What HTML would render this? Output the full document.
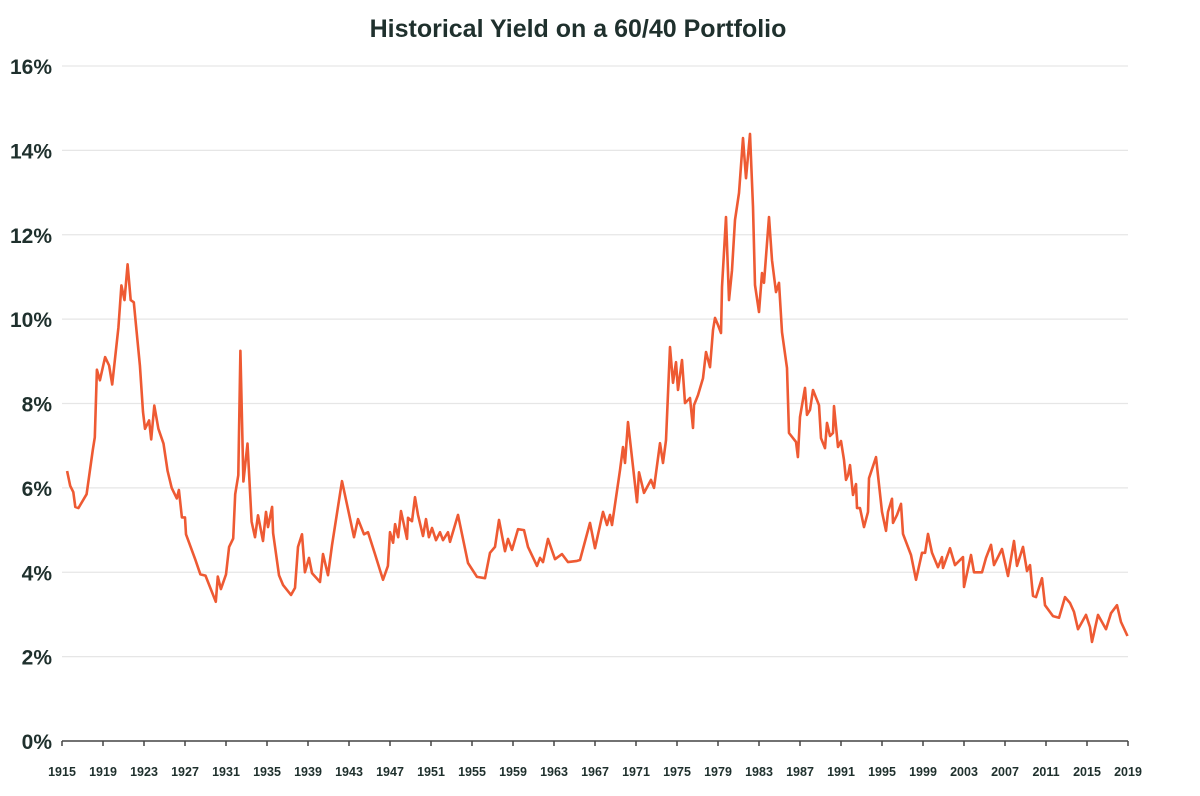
<!DOCTYPE html>
<html><head><meta charset="utf-8">
<style>
html,body{margin:0;padding:0;background:#fff;}
svg{display:block;font-family:"Liberation Sans",sans-serif;}
</style></head>
<body>
<svg id="chart" width="1200" height="796" viewBox="0 0 1200 796">
<text x="578" y="37" text-anchor="middle" font-size="25" font-weight="bold" fill="#1f302d">Historical Yield on a 60/40 Portfolio</text>
<g id="grid"></g>
<g id="yticks"></g>
<g id="xticks"></g>
<path id="line" fill="none" stroke="#ee5a33" stroke-width="2.6" stroke-linejoin="round"/>
</svg>
<script>
const years = [1915.5,1915.8,1916.1,1916.3,1916.6,1917.4,1918.0,1918.2,1918.4,1918.7,1919.2,1919.6,1919.9,1920.5,1920.8,1921.1,1921.4,1921.7,1922.0,1922.2,1922.6,1922.9,1923.1,1923.5,1923.7,1924.0,1924.4,1924.9,1925.3,1925.7,1926.2,1926.4,1926.7,1927.0,1927.1,1928.0,1928.5,1929.0,1930.0,1930.2,1930.5,1931.0,1931.3,1931.7,1931.9,1932.2,1932.4,1932.7,1933.1,1933.5,
1933.83,1934.12,1934.61,1934.9,1935.1,1935.5,1935.6,1936.17,1936.56,1937.34,1937.73,1938.02,1938.41,1938.7,1939.1,1939.39,1940.17,1940.46,1940.95,1941.34,1942.32,1943.49,1943.88,1944.46,1944.85,1945.54,1946.32,1946.8,1947.0,1947.3,1947.5,1947.8,1948.07,1948.66,1948.76,1949.15,1949.44,
1949.73,1950.22,1950.51,1950.8,1951.1,1951.49,1951.88,1952.17,1952.66,1952.85,1953.63,1954.61,1955.49,1956.27,1956.76,1957.24,1957.63,1958.22,1958.51,1958.9,1959.49,1960.07,1960.46,1961.34,1961.63,1961.93,1962.41,1963.1,1963.78,1964.37,1965.24,
1965.54,1966.51,1967.0,1967.78,1968.17,1968.46,1968.66,1969.44,1969.73,1969.93,1970.22,1971.1,1971.29,1971.78,1972.46,1972.76,1973.34,1973.63,1973.93,1974.32,1974.61,1974.9,1975.1,1975.49,1975.78,1976.27,1976.56,1976.66,1977.05,1977.54,1977.83,1978.22,1978.51,1978.71,1979.0,1979.29,1979.39,1979.78,1980.07,1980.37,1980.66,1981.05,1981.44,1981.73,1982.12,1982.41,1982.61,1983.0,1983.29,1983.49,1983.98,1984.27,1984.66,1984.95,1985.24,1985.73,1985.93,1986.61,1986.8,1987.0,1987.49,1987.68,1987.98,1988.27,1988.85,1989.05,1989.44,1989.63,1989.93,1990.22,1990.32,1990.71,1991.0,1991.29,1991.49,1991.68,1991.88,1992.17,1992.46,1992.56,1992.85,1993.24,1993.63,1993.73,1994.41,
1995.0,1995.39,1995.59,1995.98,1996.07,1996.46,1996.85,1997.05,1997.83,1998.32,1998.9,1999.2,1999.49,1999.88,2000.46,2000.85,2000.95,2001.63,2002.12,2002.9,2003.0,2003.68,2003.98,2004.76,2005.15,2005.63,2005.93,2006.71,2007.29,2007.88,2008.17,2008.76,2009.15,2009.44,2009.73,2010.02,2010.61,2010.9,2011.68,2012.27,2012.85,2013.34,2013.73,2014.12,2014.9,2015.29,2015.49,2016.07,2016.85,2017.34,2017.93,2018.32,2018.95];
const yields = [6.4,6.05,5.9,5.55,5.52,5.85,6.9,7.2,8.8,8.55,9.1,8.9,8.45,9.8,10.8,10.45,11.3,10.45,10.4,9.9,8.9,7.8,7.4,7.6,7.15,7.95,7.4,7.05,6.4,6.0,5.75,5.95,5.3,5.3,4.9,4.3,3.95,3.92,3.3,3.9,3.6,3.95,4.6,4.8,5.85,6.3,9.25,6.15,7.05,5.2,
4.83,5.35,4.74,5.43,5.07,5.55,4.93,3.93,3.7,3.46,3.63,4.6,4.9,4.0,4.34,3.98,3.77,4.43,3.93,4.64,6.16,4.83,5.26,4.9,4.95,4.43,3.82,4.15,4.95,4.7,5.14,4.83,5.45,4.79,5.29,5.21,5.78,
5.36,4.86,5.26,4.83,5.05,4.76,4.95,4.76,4.95,4.72,5.36,4.22,3.89,3.86,4.46,4.6,5.24,4.5,4.79,4.53,5.02,5.0,4.6,4.15,4.34,4.24,4.79,4.31,4.43,4.24,4.27,
4.29,5.17,4.57,5.43,5.12,5.36,5.12,6.42,6.97,6.59,7.56,5.66,6.37,5.88,6.19,6.0,7.06,6.59,7.13,9.34,8.49,8.98,8.32,9.03,8.01,8.13,7.42,7.96,8.2,8.6,9.22,8.86,9.74,10.03,9.86,9.67,10.76,12.42,10.45,11.16,12.35,12.99,14.29,13.34,14.39,12.66,10.81,10.17,11.09,10.86,12.42,11.4,10.64,10.86,9.69,8.84,7.3,7.09,6.73,7.68,8.37,7.73,7.85,8.32,7.96,7.18,6.94,7.54,7.23,7.3,7.94,6.97,7.11,6.66,6.19,6.3,6.54,5.83,6.09,5.52,5.52,5.07,5.43,6.23,6.73,
5.43,4.98,5.43,5.74,5.17,5.36,5.62,4.91,4.41,3.82,4.46,4.46,4.91,4.46,4.12,4.36,4.1,4.57,4.17,4.36,3.65,4.41,4.0,4.0,4.34,4.65,4.17,4.55,3.91,4.74,4.15,4.6,4.03,4.17,3.44,3.41,3.86,3.22,2.96,2.92,3.41,3.27,3.06,2.65,2.99,2.7,2.35,2.99,2.65,3.03,3.22,2.82,2.49];
const yTicks = [0,2,4,6,8,10,12,14,16];
const xTickYears = [];
for (let y = 1915; y <= 2019; y += 4) xTickYears.push(y);

const X0=62, X1=1128, Y0=741, Y1=66;
const xScale = yr => X0 + (yr-1915)/(2019-1915)*(X1-X0);
const yScale = v => Y0 - v/16*(Y0-Y1);
const NS="http://www.w3.org/2000/svg";
const grid=document.getElementById('grid'), yt=document.getElementById('yticks'), xt=document.getElementById('xticks');
yTicks.forEach(v=>{
  const y=yScale(v);
  if(v>0){
    const l=document.createElementNS(NS,'line');
    
    
    l.setAttribute('x1',X0);l.setAttribute('x2',X1);l.setAttribute('y1',y);l.setAttribute('y2',y);
    l.setAttribute('stroke','#e6e6e6');l.setAttribute('stroke-width','1.3');
    grid.appendChild(l);
  }
  const t=document.createElementNS(NS,'text');
  
  
  t.setAttribute('x',52);t.setAttribute('y',y+8);t.setAttribute('text-anchor','end');
  t.setAttribute('font-size','21');t.setAttribute('font-weight','bold');t.setAttribute('fill','#1f302d');
  t.textContent=v+'%';
  yt.appendChild(t);
});
const ax=document.createElementNS(NS,'line');


ax.setAttribute('x1',X0);ax.setAttribute('x2',X1);ax.setAttribute('y1',Y0);ax.setAttribute('y2',Y0);
ax.setAttribute('stroke','#444');ax.setAttribute('stroke-width','1.5');
xt.appendChild(ax);
xTickYears.forEach(yr=>{
  const x=xScale(yr);
  const tk=document.createElementNS(NS,'line');
  
  
  tk.setAttribute('x1',x);tk.setAttribute('x2',x);tk.setAttribute('y1',Y0);tk.setAttribute('y2',Y0+5);
  tk.setAttribute('stroke','#444');tk.setAttribute('stroke-width','1.5');
  xt.appendChild(tk);
  const t=document.createElementNS(NS,'text');
  
  
  t.setAttribute('x',x);t.setAttribute('y',776);t.setAttribute('text-anchor','middle');
  t.setAttribute('font-size','12.5');t.setAttribute('font-weight','bold');t.setAttribute('fill','#1f302d');
  t.textContent=yr;
  xt.appendChild(t);
});
document.getElementById('line').setAttribute('d', years.map((yr,i)=>(i?'L':'M')+xScale(yr).toFixed(1)+','+yScale(yields[i]).toFixed(1)).join(''));
</script>
</body></html>
